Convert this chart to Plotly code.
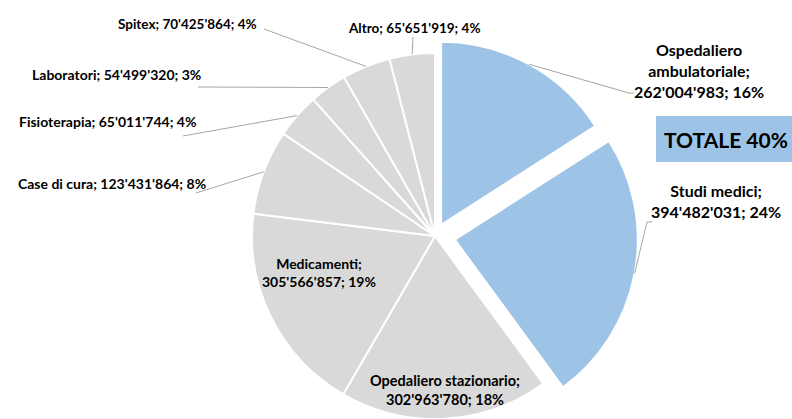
import math
import plotly.graph_objects as go

# ---- data ----
categories = ["Ospedaliero ambulatoriale", "Studi medici", "Opedaliero stazionario",
              "Medicamenti", "Case di cura", "Fisioterapia", "Laboratori", "Spitex", "Altro"]
values = [262004983, 394482031, 302963780, 305566857, 123431864,
          65011744, 54499320, 70425864, 65651919]
percent_labels = ["16%", "24%", "18%", "19%", "8%", "4%", "3%", "4%", "4%"]
highlight = [True, True, False, False, False, False, False, False, False]
pulls = [0.07, 0.11, 0, 0, 0, 0, 0, 0, 0]
total_label = "TOTALE 40%"

# ---- layout geometry (pixels) ----
W, H = 792, 441
CX, CY, R = 435, 236, 183
max_pull = max(pulls)
half = R * (1 + max_pull)
dom_x = [(CX - half) / W, (CX + half) / W]
dom_y = [1 - (CY + half) / H, 1 - (CY - half) / H]

BLUE = "#9DC3E6"
GREY = "#D9D9D9"
FONT = "Lato, Carlito, Calibri, sans-serif"


def px(x):
    return x / W


def py(y):
    return 1 - y / H


def fmt(v):
    return f"{v:,}".replace(",", "'")


colors = [BLUE if h else GREY for h in highlight]

fig = go.Figure(go.Pie(
    labels=categories, values=values, sort=False, direction="clockwise",
    rotation=0, pull=pulls, textinfo="none", hoverinfo="label+value+percent",
    marker=dict(colors=colors, line=dict(color="white", width=2)),
    domain=dict(x=dom_x, y=dom_y), showlegend=False,
))

# slice anchor points from the data
total = sum(values)
anchors = []
cum = 0
for v, p in zip(values, pulls):
    mid = (cum + v / 2) / total * 2 * math.pi
    cum += v
    ox = CX + p * R * math.sin(mid)
    oy = CY - p * R * math.cos(mid)
    anchors.append((ox + R * math.sin(mid), oy - R * math.cos(mid)))

# label placement
label_cfg = {
    "Ospedaliero ambulatoriale": dict(x=699, y=70, xa="center", size=16,
                                      text="Ospedaliero<br>ambulatoriale;<br>{v}; {p}",
                                      lead=[(634, 93), (629, 93)]),
    "Studi medici": dict(x=716, y=201, xa="center", size=16,
                         text="Studi medici;<br>{v}; {p}",
                         lead=[(652, 222), (647, 222)]),
    "Opedaliero stazionario": dict(x=445, y=390, xa="center", size=14.5,
                                   text="Opedaliero stazionario;<br>{v}; {p}", lead=None),
    "Medicamenti": dict(x=319, y=272, xa="center", size=14,
                        text="Medicamenti;<br>{v}; {p}", lead=None),
    "Case di cura": dict(x=208, y=183, xa="right", size=14,
                         text="Case di cura; {v}; {p}", lead=[(196, 193)]),
    "Fisioterapia": dict(x=198, y=122, xa="right", size=14,
                         text="Fisioterapia; {v}; {p}", lead=[(183, 136)]),
    "Laboratori": dict(x=203, y=74, xa="right", size=14,
                       text="Laboratori; {v}; {p}", lead=[(198, 87)]),
    "Spitex": dict(x=259, y=24, xa="right", size=13.5,
                   text="Spitex; {v}; {p}", lead=[(264, 29)]),
    "Altro": dict(x=414, y=28, xa="center", size=13.5,
                  text="Altro; {v}; {p}", lead=[(413, 37)]),
}

annotations = []
shapes = []
for cat, v, pct, anc in zip(categories, values, percent_labels, anchors):
    c = label_cfg[cat]
    annotations.append(dict(
        x=px(c["x"]), y=py(c["y"]), xref="paper", yref="paper",
        xanchor=c["xa"], yanchor="middle", showarrow=False, align="center",
        text="<b>" + c["text"].format(v=fmt(v), p=pct) + "</b>",
        font=dict(family=FONT, size=c["size"], color="#000000"),
    ))
    if c["lead"]:
        pts = c["lead"] + [anc]
        path = "M " + " L ".join(f"{px(a)},{py(b)}" for a, b in pts)
        shapes.append(dict(type="path", xref="paper", yref="paper", path=path,
                           line=dict(color="#A6A6A6", width=1)))

# TOTALE box
shapes.append(dict(type="rect", xref="paper", yref="paper",
                   x0=px(656), x1=px(800), y0=py(162), y1=py(116),
                   fillcolor=BLUE, line=dict(width=0), layer="below"))
annotations.append(dict(x=px(726), y=py(139), xref="paper", yref="paper",
                        xanchor="center", yanchor="middle", showarrow=False,
                        text=f"<b>{total_label}</b>",
                        font=dict(family=FONT, size=21, color="#000000")))

fig.update_layout(
    width=W, height=H, margin=dict(l=0, r=0, t=0, b=0),
    paper_bgcolor="white", plot_bgcolor="white",
    annotations=annotations, shapes=shapes,
)

fig.write_html("out.html")
